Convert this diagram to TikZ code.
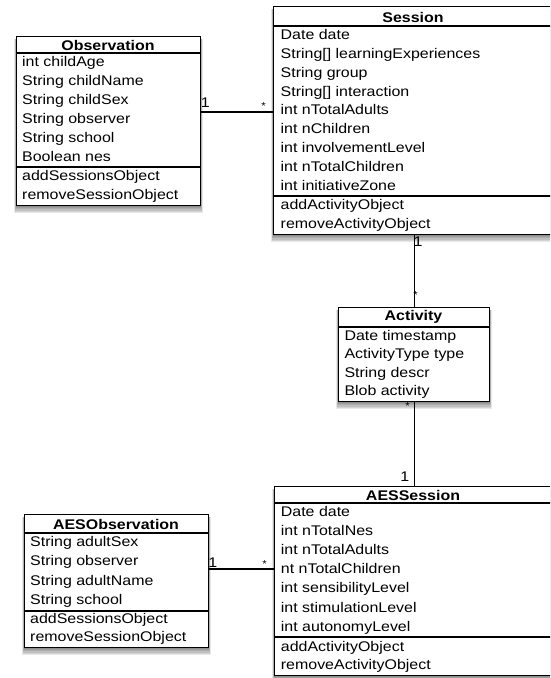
\documentclass[tikz,border=0pt]{standalone}
\usepackage{fontspec}
\setmainfont{Liberation Sans}[FakeStretch=1.14]
\newcommand\boxshadow[4]{%
  \foreach \k in {1,...,7}{%
    \fill[black,opacity=0.09] ({#1+1-\k*0.4},{#2+3}) rectangle ({#3+\k*0.4},{#4+\k*1.1});}}
\begin{document}
\begin{tikzpicture}[x=1pt,y=-1pt,
  box/.style={draw=black, line width=1.2pt, fill=white, inner sep=0pt, anchor=north west},
  sep/.style={line width=1.1pt},
  conn/.style={line width=1.1pt},
  attr/.style={anchor=base west, inner sep=0pt, font=\fontsize{14}{16}\selectfont},
  ttl/.style={anchor=base, inner sep=0pt, font=\fontsize{14}{16}\selectfont\bfseries},
  mult/.style={anchor=base, inner sep=0pt, font=\fontsize{14}{16}\selectfont},
  star/.style={anchor=center, inner sep=0pt, font=\fontsize{10}{12}\selectfont}]
\clip (0,0) rectangle (550,678);
\fill[white] (0,0) rectangle (550,678);

% ---------- Observation ----------
\boxshadow{16}{36}{200}{205}
\node[box, minimum width=184pt, minimum height=169pt] (obs) at (16,36) {};
\draw[sep] (obs.west |- 0,53) -- (obs.east |- 0,53);
\draw[sep] (obs.west |- 0,167) -- (obs.east |- 0,167);
\node[ttl] (obs-t) at (108,50.5) {Observation};
\foreach \t [count=\i] in {int childAge, String childName, String childSex, String observer, String school, Boolean nes}
  \node[attr] (obs-a\i) at (22,{53+13.5+(\i-1)*19}) {\t};
\foreach \t [count=\i] in {addSessionsObject, removeSessionObject}
  \node[attr] (obs-m\i) at (22,{167+13.5+(\i-1)*19}) {\t};

% ---------- Session ----------
\boxshadow{273}{6}{553}{234}
\node[box, minimum width=280pt, minimum height=228pt] (sess) at (273,6) {};
\draw[sep] (sess.west |- 0,26) -- (sess.east |- 0,26);
\draw[sep] (sess.west |- 0,196) -- (sess.east |- 0,196);
\node[ttl] (sess-t) at (413,22.5) {Session};
\foreach \t [count=\i] in {Date date, String[] learningExperiences, String group, String[] interaction, int nTotalAdults, int nChildren, int involvementLevel, int nTotalChildren, int initiativeZone}
  \node[attr] (sess-a\i) at (280.5,{26+13.3+(\i-1)*18.9}) {\t};
\foreach \t [count=\i] in {addActivityObject, removeActivityObject}
  \node[attr] (sess-m\i) at (280.5,{196+13.5+(\i-1)*19}) {\t};

% ---------- Activity ----------
\boxshadow{338}{307}{489}{401}
\node[box, minimum width=151pt, minimum height=94pt] (act) at (338,307) {};
\draw[sep] (act.west |- 0,327) -- (act.east |- 0,327);
\node[ttl] (act-t) at (413.5,320) {Activity};
\foreach \t [count=\i] in {Date timestamp, ActivityType type, String descr, Blob activity}
  \node[attr] (act-a\i) at (344.3,{327+13.2+(\i-1)*18.5}) {\t};

% ---------- AESSession ----------
\boxshadow{274}{486}{552}{675}
\node[box, minimum width=278pt, minimum height=189pt] (aess) at (274,486) {};
\draw[sep] (aess.west |- 0,503) -- (aess.east |- 0,503);
\draw[sep] (aess.west |- 0,637) -- (aess.east |- 0,637);
\node[ttl] (aess-t) at (413,500.5) {AESSession};
\foreach \t [count=\i] in {Date date, int nTotalNes, int nTotalAdults, nt nTotalChildren, int sensibilityLevel, int stimulationLevel, int autonomyLevel}
  \node[attr] (aess-a\i) at (280.7,{503+13.5+(\i-1)*19.1}) {\t};
\foreach \t [count=\i] in {addActivityObject, removeActivityObject}
  \node[attr] (aess-m\i) at (280.7,{637+14+(\i-1)*18.5}) {\t};

% ---------- AESObservation ----------
\boxshadow{24}{514}{208}{647}
\node[box, minimum width=184pt, minimum height=133pt] (aeso) at (24,514) {};
\draw[sep] (aeso.west |- 0,533) -- (aeso.east |- 0,533);
\draw[sep] (aeso.west |- 0,611) -- (aeso.east |- 0,611);
\node[ttl] (aeso-t) at (116,529.3) {AESObservation};
\foreach \t [count=\i] in {String adultSex, String observer, String adultName, String school}
  \node[attr] (aeso-a\i) at (30,{533+13.2+(\i-1)*19.4}) {\t};
\foreach \t [count=\i] in {addSessionsObject, removeSessionObject}
  \node[attr] (aeso-m\i) at (30,{611+12.8+(\i-1)*17.2}) {\t};

% ---------- connectors ----------
\draw[conn] (obs.east |- 0,112) -- (sess.west |- 0,112);
\node[mult] (m1) at (205.3,107.3) {1};
\node[star] (m2) at (263.7,106) {*};

\draw[conn] (act.north |- sess.south) -- (act.north);
\node[mult] (m3) at (418,246.7) {1};
\node[star] (m4) at (415.5,295.5) {*};

\draw[conn] (act.south) -- (act.south |- aess.north);
\node[star] (m5) at (407.7,406) {*};
\node[mult] (m6) at (404.8,481.7) {1};

\draw[conn] (aeso.east |- 0,569) -- (aess.west |- 0,569);
\node[mult] (m7) at (212.8,567.5) {1};
\node[star] (m8) at (264.7,564.5) {*};
\end{tikzpicture}
\end{document}
